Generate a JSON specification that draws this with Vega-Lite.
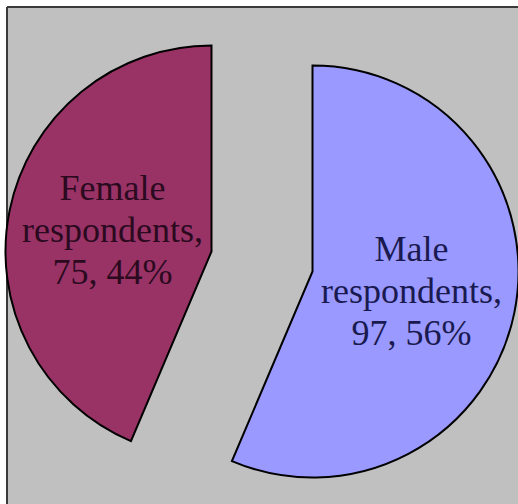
{
  "$schema": "https://vega.github.io/schema/vega-lite/v6.json",
  "width": 511,
  "height": 497,
  "autosize": "none",
  "padding": {"left": 7, "top": 7, "right": 0, "bottom": 0},
  "background": "#FFFFFF",
  "view": {
    "fill": "#C0C0C0",
    "stroke": "#3A3A3A",
    "strokeWidth": 2,
    "strokeDash": [511, 1008, 497, 0]
  },
  "data": {
    "values": [
      {"gender": "Male", "value": 97},
      {"gender": "Female", "value": 75}
    ]
  },
  "transform": [
    {"joinaggregate": [{"op": "sum", "field": "value", "as": "total"}]},
    {"stack": "value", "groupby": [], "offset": "normalize", "sort": [{"field": "gender", "order": "descending"}], "as": ["f0", "f1"]},
    {"calculate": "(datum.f0 + datum.f1) / 2", "as": "mid"},
    {"calculate": "[datum.gender, 'respondents,', datum.value + ', ' + round(datum.value / datum.total * 100) + '%']", "as": "label"}
  ],
  "layer": [
    {
      "transform": [{"filter": "datum.gender === 'Male'"}],
      "layer": [
        {
          "mark": {"type": "arc", "outerRadius": 206, "fill": "#9999FF", "stroke": "#000000", "strokeWidth": 2, "xOffset": 50, "yOffset": 16},
          "encoding": {
            "theta": {"field": "f0", "type": "quantitative", "stack": null, "scale": {"domain": [0, 1]}},
            "theta2": {"field": "f1"}
          }
        },
        {
          "mark": {"type": "text", "radius": 101, "font": "Liberation Serif, Times New Roman, serif", "fontSize": 36, "lineHeight": 42, "align": "center", "baseline": "middle", "dy": -42, "fill": "#1A1A50", "xOffset": 50, "yOffset": 16},
          "encoding": {
            "theta": {"field": "mid", "type": "quantitative", "stack": null},
            "text": {"field": "label"}
          }
        }
      ]
    },
    {
      "transform": [{"filter": "datum.gender === 'Female'"}],
      "layer": [
        {
          "mark": {"type": "arc", "outerRadius": 206, "fill": "#993366", "stroke": "#000000", "strokeWidth": 2, "xOffset": -51, "yOffset": -4},
          "encoding": {
            "theta": {"field": "f0", "type": "quantitative", "stack": null},
            "theta2": {"field": "f1"}
          }
        },
        {
          "mark": {"type": "text", "radius": 101, "font": "Liberation Serif, Times New Roman, serif", "fontSize": 36, "lineHeight": 42, "align": "center", "baseline": "middle", "dy": -42, "fill": "#2B0A20", "xOffset": -51, "yOffset": -4},
          "encoding": {
            "theta": {"field": "mid", "type": "quantitative", "stack": null},
            "text": {"field": "label"}
          }
        }
      ]
    }
  ]
}
